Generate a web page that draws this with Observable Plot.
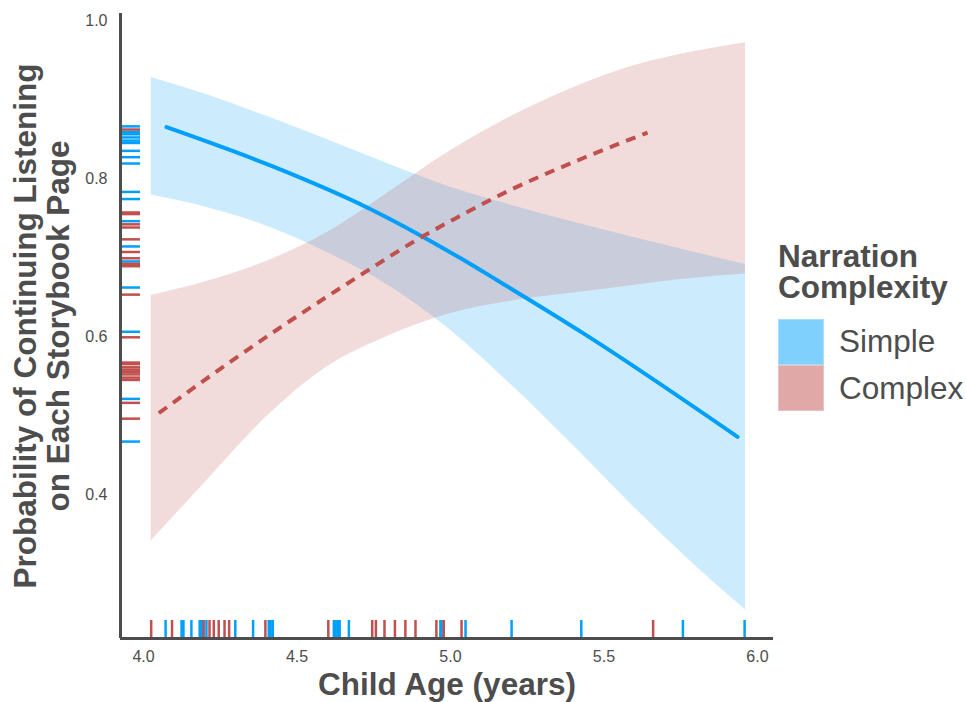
<!DOCTYPE html>
<html>
<head>
<meta charset="utf-8">
<script src="https://cdn.jsdelivr.net/npm/d3@7"></script>
<script src="https://cdn.jsdelivr.net/npm/@observablehq/plot@0.6"></script>
<style>
  body { margin: 0; background: white; }
  #wrap { position: relative; width: 966px; height: 702px; font-family: "Liberation Sans", Arial, sans-serif; color: #4d4d4d; }
  #legend { position: absolute; left: 778px; top: 241px; }
  .lg-title { font-weight: bold; font-size: 31.5px; line-height: 31.3px; white-space: nowrap; }
  .sw { position: absolute; left: 0; width: 44px; height: 44px; border: 1px solid; }
  .lab { position: absolute; left: 61px; font-size: 31.5px; line-height: 31.5px; white-space: nowrap; }
</style>
</head>
<body>
<div id="wrap"></div>
<script>
// ---- data ----
const groups = ["Simple", "Complex"];
const groupColors = ["#00A0FA", "#C0504D"];

const bandAge      = [4.025, 4.2, 4.4, 4.6, 4.8, 5.0, 5.2, 5.4, 5.6, 5.8, 5.961];
const simpleUpper  = [0.928, 0.907, 0.879, 0.849, 0.818, 0.789, 0.766, 0.745, 0.725, 0.706, 0.691];
const simpleLower  = [0.779, 0.764, 0.740, 0.706, 0.664, 0.608, 0.538, 0.462, 0.383, 0.309, 0.254];
const complexUpper = [0.652, 0.669, 0.695, 0.732, 0.783, 0.835, 0.879, 0.915, 0.943, 0.961, 0.972];
const complexLower = [0.341, 0.415, 0.498, 0.562, 0.601, 0.629, 0.645, 0.655, 0.665, 0.674, 0.679];

const simpleLineAge   = [4.075, 4.423, 4.730, 4.902, 5.033, 5.153, 5.433, 5.935];
const simpleLineProb  = [0.865, 0.815, 0.763, 0.728, 0.699, 0.671, 0.604, 0.473];
const complexLineAge  = [4.050, 4.316, 4.684, 4.902, 5.033, 5.140, 5.433, 5.642];
const complexLineProb = [0.503, 0.577, 0.672, 0.725, 0.753, 0.775, 0.826, 0.858];

const simpleAgeRug  = [4.072, 4.124, 4.130, 4.156, 4.183, 4.188, 4.193, 4.205, 4.299, 4.357, 4.408, 4.414, 4.421, 4.620, 4.626, 4.633, 4.639, 4.669, 4.967, 4.971, 5.049, 5.199, 5.426, 5.757, 5.958];
const complexAgeRug = [4.025, 4.093, 4.196, 4.215, 4.229, 4.245, 4.264, 4.279, 4.397, 4.602, 4.745, 4.757, 4.785, 4.819, 4.853, 4.886, 4.954, 4.978, 5.036, 5.660];
const simpleProbRug  = [0.866, 0.859, 0.856, 0.852, 0.848, 0.845, 0.835, 0.827, 0.819, 0.783, 0.774, 0.746, 0.714, 0.695, 0.662, 0.606, 0.521, 0.467];
const complexProbRug = [0.862, 0.757, 0.755, 0.742, 0.738, 0.723, 0.707, 0.699, 0.692, 0.689, 0.653, 0.599, 0.567, 0.565, 0.561, 0.558, 0.555, 0.552, 0.548, 0.545, 0.516, 0.496];

const xTicks = [4.0, 4.5, 5.0, 5.5, 6.0];
const yTicks = [0.4, 0.6, 0.8, 1.0];
const xTitle = "Child Age (years)";
const yTitle1 = "Probability of Continuing Listening";
const yTitle2 = "on Each Storybook Page";
const legendTitle = ["Narration", "Complexity"];

// ---- tables built from the arrays ----
const band = [];
bandAge.forEach((a, i) => {
  band.push({group: "Simple", age: a, lo: simpleLower[i], hi: simpleUpper[i]});
});
bandAge.forEach((a, i) => {
  band.push({group: "Complex", age: a, lo: complexLower[i], hi: complexUpper[i]});
});
const simpleLine = simpleLineAge.map((a, i) => ({age: a, p: simpleLineProb[i]}));
const complexLine = complexLineAge.map((a, i) => ({age: a, p: complexLineProb[i]}));
const ageRug = [
  ...simpleAgeRug.map(a => ({group: "Simple", age: a})),
  ...complexAgeRug.map(a => ({group: "Complex", age: a}))
];
const probRug = [
  ...simpleProbRug.map(p => ({group: "Simple", p})),
  ...complexProbRug.map(p => ({group: "Complex", p}))
];

const xDomain = [3.92508, 6.05212];
const yDomain = [0.2177, 1.0089];
const axisColor = "#4d4d4d";

const chart = Plot.plot({
  width: 966,
  height: 702,
  marginLeft: 120,
  marginRight: 193,
  marginTop: 13,
  marginBottom: 64,
  style: {fontFamily: "'Liberation Sans', Arial, sans-serif", fontSize: "16px", color: axisColor, background: "white", overflow: "visible"},
  x: {domain: xDomain},
  y: {domain: yDomain},
  color: {domain: groups, range: groupColors},
  marks: [
    Plot.areaY(band, {x: "age", y1: "lo", y2: "hi", z: "group", fill: "group", fillOpacity: 0.2, curve: "monotone-x"}),
    Plot.tickX(ageRug, {x: "age", stroke: "group", strokeWidth: 2.5, insetTop: 607, insetBottom: 1}),
    Plot.tickY(probRug, {y: "p", stroke: "group", strokeWidth: 2.5, insetLeft: 2, insetRight: 633}),
    Plot.line(simpleLine, {x: "age", y: "p", stroke: groupColors[0], strokeWidth: 4, curve: "monotone-x"}),
    Plot.line(complexLine, {x: "age", y: "p", stroke: groupColors[1], strokeWidth: 4, strokeDasharray: "10,7.5", strokeLinecap: "butt", curve: "monotone-x"}),
    Plot.ruleX([xDomain[0]], {stroke: axisColor, strokeWidth: 3}),
    Plot.ruleY([yDomain[0]], {stroke: axisColor, strokeWidth: 3}),
    Plot.axisX({ticks: xTicks, tickFormat: d3.format(".1f"), tickSize: 0, tickPadding: 12, label: null, fontSize: 16, fill: axisColor}),
    Plot.axisY({ticks: yTicks, tickFormat: d3.format(".1f"), tickSize: 0, tickPadding: 13, label: null, fontSize: 16, fill: axisColor}),
    Plot.text([xTitle], {frameAnchor: "bottom", lineAnchor: "middle", textAnchor: "middle", dy: 46, fontSize: 31.5, fontWeight: "bold", fill: axisColor}),
    Plot.text([yTitle1], {frameAnchor: "left", lineAnchor: "middle", textAnchor: "middle", rotate: -90, dx: -95, fontSize: 31.5, fontWeight: "bold", fill: axisColor}),
    Plot.text([yTitle2], {frameAnchor: "left", lineAnchor: "middle", textAnchor: "middle", rotate: -90, dx: -62, fontSize: 31.5, fontWeight: "bold", fill: axisColor})
  ]
});

const wrap = document.getElementById("wrap");
wrap.appendChild(chart);

// ---- legend (HTML) ----
const legend = document.createElement("div");
legend.id = "legend";
const lt = document.createElement("div");
lt.className = "lg-title";
lt.innerHTML = legendTitle.join("<br>");
legend.appendChild(lt);
wrap.appendChild(legend);
const swFill = [d3.interpolateRgb("white", groupColors[0])(0.5), d3.interpolateRgb("white", groupColors[1])(0.5)];
const swBorder = [d3.interpolateRgb("white", groupColors[0])(0.35), d3.interpolateRgb("white", groupColors[1])(0.35)];
groups.forEach((g, i) => {
  const sw = document.createElement("div");
  sw.className = "sw";
  sw.style.top = (78 + i * 46) + "px";
  sw.style.background = swFill[i];
  sw.style.borderColor = swBorder[i];
  legend.appendChild(sw);
  const lab = document.createElement("div");
  lab.className = "lab";
  lab.style.top = (85 + i * 47) + "px";
  lab.textContent = g;
  legend.appendChild(lab);
});
</script>
</body>
</html>
